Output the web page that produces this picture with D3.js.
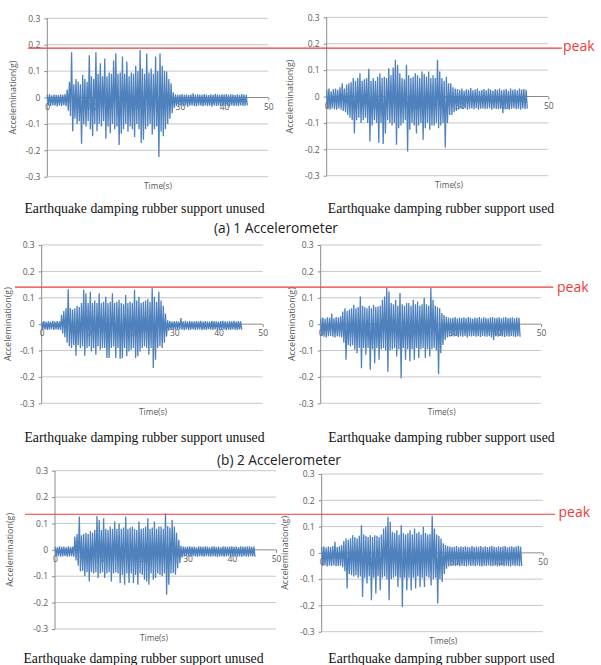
<!DOCTYPE html>
<html><head><meta charset="utf-8">
<script src="https://cdn.jsdelivr.net/npm/d3@7"></script>
<style>html,body{margin:0;padding:0;background:#fff;}svg{display:block;}</style>
</head><body>
<svg id="chart" width="601" height="665"></svg>
<script>
// ---------------- DATA ----------------
const timeStep = 0.5;               // seconds between envelope samples
const xTicks = [0, 10, 20, 30, 40, 50];
const yTicks = [0.3, 0.2, 0.1, 0, -0.1, -0.2, -0.3];
const yTickLabels = ["0.3", "0.2", "0.1", "0", "-0.1", "-0.2", "-0.3"];
const captions = ["Earthquake damping rubber support unused", "Earthquake damping rubber support used"];
const subtitles = ["(a) 1 Accelerometer", "(b) 2 Accelerometer"];
const peakLevels = [0.187, 0.140, 0.135];   // red "peak" line per row (g)
const yTitle = "Accelemination(g)";
const xTitle = "Time(s)";
const peakLabel = "peak";

// Accelerometer 1, rubber support unused: per-0.5 s upper / lower excursions (g)
const a1UnusedHi = [0.010,0.012,0.008,0.011,0.010,0.009,0.012,0.010,0.013,0.030,
  0.060,0.171,0.050,0.070,0.060,0.050,0.085,0.070,0.060,0.160,
  0.080,0.070,0.171,0.090,0.130,0.080,0.148,0.080,0.095,0.090,
  0.140,0.167,0.090,0.095,0.155,0.090,0.136,0.080,0.095,0.090,
  0.120,0.100,0.180,0.110,0.090,0.167,0.095,0.110,0.090,0.155,
  0.100,0.167,0.120,0.100,0.098,0.070,0.054,0.020,0.012,0.010,
  0.011,0.013,0.010,0.012,0.009,0.011,0.016,0.010,0.012,0.011,
  0.010,0.013,0.011,0.009,0.012,0.010,0.014,0.011,0.010,0.012,
  0.011,0.013,0.010,0.012,0.011,0.009,0.012,0.010,0.013,0.011,0.010];
const a1UnusedLo = [-0.030,-0.032,-0.030,-0.031,-0.034,-0.030,-0.032,-0.029,-0.033,-0.050,
  -0.070,-0.128,-0.080,-0.100,-0.090,-0.175,-0.100,-0.110,-0.090,-0.120,
  -0.147,-0.100,-0.128,-0.100,-0.110,-0.090,-0.156,-0.110,-0.135,-0.100,
  -0.120,-0.110,-0.180,-0.137,-0.120,-0.100,-0.130,-0.110,-0.120,-0.150,
  -0.100,-0.120,-0.172,-0.160,-0.120,-0.110,-0.100,-0.140,-0.120,-0.110,
  -0.225,-0.130,-0.147,-0.120,-0.100,-0.080,-0.060,-0.040,-0.032,-0.030,
  -0.031,-0.033,-0.030,-0.036,-0.031,-0.030,-0.032,-0.034,-0.030,-0.031,
  -0.033,-0.030,-0.032,-0.031,-0.035,-0.030,-0.032,-0.031,-0.033,-0.030,
  -0.032,-0.031,-0.034,-0.030,-0.032,-0.031,-0.033,-0.030,-0.032,-0.031,-0.030];

// Accelerometer 1, rubber support used
const a1UsedHi = [0.025,0.030,0.020,0.028,0.030,0.025,0.035,0.050,0.030,0.045,
  0.050,0.055,0.070,0.060,0.070,0.088,0.060,0.065,0.070,0.105,
  0.060,0.070,0.060,0.075,0.088,0.070,0.075,0.070,0.107,0.080,
  0.110,0.139,0.120,0.088,0.070,0.065,0.120,0.080,0.070,0.075,
  0.088,0.080,0.070,0.095,0.085,0.075,0.095,0.070,0.080,0.070,
  0.139,0.095,0.070,0.060,0.075,0.050,0.050,0.035,0.030,0.028,
  0.025,0.030,0.022,0.027,0.025,0.032,0.024,0.026,0.030,0.022,
  0.025,0.028,0.024,0.030,0.026,0.022,0.028,0.025,0.030,0.024,
  0.026,0.028,0.022,0.030,0.025,0.027,0.024,0.030,0.026,0.028,0.025];
const a1UsedLo = [-0.045,-0.050,-0.045,-0.048,-0.050,-0.045,-0.050,-0.055,-0.060,-0.070,
  -0.080,-0.090,-0.140,-0.090,-0.080,-0.100,-0.090,-0.080,-0.100,-0.170,
  -0.110,-0.090,-0.100,-0.175,-0.100,-0.180,-0.140,-0.090,-0.100,-0.110,
  -0.100,-0.183,-0.120,-0.110,-0.100,-0.090,-0.208,-0.126,-0.100,-0.110,
  -0.140,-0.110,-0.100,-0.164,-0.120,-0.100,-0.126,-0.110,-0.110,-0.100,
  -0.120,-0.110,-0.100,-0.193,-0.100,-0.070,-0.070,-0.060,-0.055,-0.050,
  -0.045,-0.048,-0.044,-0.050,-0.046,-0.045,-0.048,-0.044,-0.050,-0.046,
  -0.045,-0.048,-0.046,-0.044,-0.050,-0.045,-0.047,-0.048,-0.046,-0.063,
  -0.048,-0.045,-0.050,-0.046,-0.044,-0.048,-0.046,-0.050,-0.045,-0.047,-0.046];

// Accelerometer 2, rubber support unused
const a2UnusedHi = [0.010,0.012,0.009,0.011,0.010,0.013,0.010,0.012,0.011,0.035,
  0.050,0.060,0.132,0.060,0.055,0.060,0.070,0.065,0.080,0.130,
  0.117,0.080,0.123,0.080,0.090,0.080,0.117,0.080,0.085,0.104,
  0.080,0.085,0.117,0.080,0.085,0.092,0.080,0.075,0.110,0.080,
  0.085,0.080,0.130,0.090,0.104,0.080,0.085,0.090,0.095,0.085,
  0.136,0.104,0.085,0.123,0.090,0.070,0.040,0.015,0.012,0.010,
  0.011,0.012,0.010,0.023,0.011,0.013,0.010,0.012,0.011,0.010,
  0.012,0.011,0.013,0.010,0.012,0.011,0.010,0.013,0.012,0.011,
  0.010,0.012,0.013,0.011,0.010,0.012,0.011,0.013,0.010,0.012,0.011];
const a2UnusedLo = [-0.021,-0.020,-0.022,-0.021,-0.019,-0.022,-0.020,-0.021,-0.022,-0.035,
  -0.050,-0.070,-0.084,-0.090,-0.080,-0.120,-0.080,-0.090,-0.085,-0.120,
  -0.090,-0.085,-0.104,-0.090,-0.116,-0.085,-0.097,-0.090,-0.090,-0.128,
  -0.128,-0.090,-0.085,-0.128,-0.090,-0.132,-0.128,-0.090,-0.122,-0.104,
  -0.097,-0.090,-0.128,-0.122,-0.104,-0.090,-0.085,-0.090,-0.116,-0.090,
  -0.166,-0.135,-0.090,-0.084,-0.090,-0.070,-0.047,-0.025,-0.021,-0.020,
  -0.021,-0.022,-0.020,-0.021,-0.023,-0.020,-0.022,-0.021,-0.020,-0.022,
  -0.021,-0.020,-0.023,-0.021,-0.022,-0.020,-0.021,-0.022,-0.020,-0.021,
  -0.022,-0.021,-0.020,-0.023,-0.021,-0.022,-0.020,-0.021,-0.022,-0.020,-0.021];

// Accelerometer 2, rubber support used
const a2UsedHi = [0.022,0.025,0.020,0.026,0.024,0.040,0.022,0.027,0.025,0.030,
  0.048,0.060,0.050,0.055,0.060,0.073,0.060,0.065,0.105,0.070,
  0.065,0.060,0.070,0.060,0.073,0.065,0.067,0.070,0.092,0.105,
  0.137,0.124,0.080,0.075,0.092,0.070,0.118,0.075,0.070,0.080,
  0.080,0.070,0.092,0.075,0.086,0.070,0.075,0.100,0.075,0.070,
  0.137,0.092,0.070,0.065,0.060,0.042,0.035,0.028,0.025,0.022,
  0.024,0.027,0.021,0.025,0.023,0.026,0.022,0.027,0.024,0.021,
  0.025,0.023,0.027,0.022,0.026,0.024,0.021,0.025,0.027,0.023,
  0.024,0.026,0.022,0.025,0.027,0.023,0.024,0.026,0.022,0.025,0.024];
const a2UsedLo = [-0.045,-0.048,-0.050,-0.046,-0.045,-0.048,-0.050,-0.046,-0.048,-0.050,
  -0.070,-0.135,-0.080,-0.085,-0.080,-0.097,-0.110,-0.090,-0.167,-0.090,
  -0.116,-0.090,-0.173,-0.095,-0.148,-0.090,-0.135,-0.095,-0.090,-0.100,
  -0.180,-0.100,-0.095,-0.090,-0.123,-0.095,-0.205,-0.090,-0.135,-0.095,
  -0.141,-0.095,-0.135,-0.090,-0.128,-0.095,-0.090,-0.128,-0.095,-0.123,
  -0.095,-0.090,-0.100,-0.190,-0.110,-0.079,-0.060,-0.050,-0.048,-0.046,
  -0.047,-0.045,-0.049,-0.046,-0.048,-0.045,-0.050,-0.046,-0.047,-0.045,
  -0.048,-0.046,-0.049,-0.045,-0.047,-0.048,-0.046,-0.050,-0.060,-0.046,
  -0.048,-0.045,-0.047,-0.049,-0.046,-0.048,-0.045,-0.047,-0.049,-0.046,-0.048];

// Accelerometer 3, rubber support unused
const a3UnusedHi = [0.012,0.010,0.013,0.011,0.012,0.010,0.013,0.011,0.012,0.050,
  0.060,0.126,0.055,0.060,0.065,0.060,0.070,0.065,0.075,0.128,
  0.113,0.075,0.120,0.080,0.075,0.088,0.080,0.107,0.080,0.100,
  0.080,0.085,0.126,0.080,0.085,0.088,0.080,0.075,0.107,0.080,
  0.082,0.088,0.120,0.080,0.085,0.107,0.080,0.088,0.088,0.080,
  0.138,0.090,0.085,0.113,0.088,0.065,0.038,0.015,0.012,0.011,
  0.012,0.013,0.011,0.012,0.010,0.013,0.012,0.011,0.013,0.012,
  0.010,0.012,0.013,0.011,0.012,0.010,0.013,0.012,0.011,0.012,
  0.013,0.011,0.012,0.010,0.013,0.012,0.011,0.012,0.013,0.011,0.012];
const a3UnusedLo = [-0.025,-0.024,-0.026,-0.025,-0.023,-0.026,-0.025,-0.024,-0.026,-0.040,
  -0.060,-0.082,-0.080,-0.100,-0.085,-0.120,-0.085,-0.090,-0.085,-0.107,
  -0.090,-0.085,-0.107,-0.090,-0.085,-0.120,-0.090,-0.085,-0.090,-0.126,
  -0.095,-0.132,-0.090,-0.126,-0.090,-0.126,-0.095,-0.132,-0.090,-0.095,
  -0.113,-0.120,-0.132,-0.090,-0.113,-0.107,-0.090,-0.095,-0.100,-0.090,
  -0.170,-0.132,-0.090,-0.088,-0.094,-0.070,-0.050,-0.030,-0.025,-0.024,
  -0.025,-0.026,-0.024,-0.025,-0.027,-0.024,-0.025,-0.026,-0.024,-0.025,
  -0.026,-0.024,-0.025,-0.027,-0.025,-0.024,-0.026,-0.025,-0.024,-0.026,
  -0.025,-0.024,-0.026,-0.025,-0.027,-0.024,-0.025,-0.026,-0.024,-0.025,-0.026];

// Accelerometer 3, rubber support used
const a3UsedHi = [0.022,0.025,0.020,0.024,0.022,0.026,0.042,0.022,0.025,0.030,
  0.045,0.055,0.050,0.055,0.067,0.060,0.055,0.065,0.105,0.070,
  0.065,0.060,0.067,0.060,0.067,0.065,0.060,0.070,0.093,0.100,
  0.137,0.118,0.080,0.075,0.086,0.070,0.105,0.075,0.070,0.075,
  0.086,0.070,0.093,0.075,0.080,0.070,0.099,0.075,0.070,0.072,
  0.141,0.093,0.070,0.065,0.055,0.036,0.030,0.026,0.024,0.022,
  0.023,0.026,0.021,0.024,0.022,0.025,0.023,0.021,0.026,0.022,
  0.024,0.023,0.026,0.021,0.025,0.022,0.024,0.026,0.023,0.021,
  0.025,0.022,0.024,0.026,0.021,0.023,0.025,0.022,0.024,0.026,0.023];
const a3UsedLo = [-0.050,-0.048,-0.052,-0.049,-0.050,-0.048,-0.051,-0.050,-0.049,-0.055,
  -0.070,-0.136,-0.080,-0.085,-0.090,-0.085,-0.095,-0.090,-0.168,-0.095,
  -0.117,-0.090,-0.180,-0.095,-0.155,-0.090,-0.142,-0.095,-0.090,-0.100,
  -0.180,-0.100,-0.095,-0.090,-0.130,-0.095,-0.206,-0.095,-0.142,-0.095,
  -0.142,-0.095,-0.136,-0.090,-0.130,-0.095,-0.130,-0.090,-0.095,-0.124,
  -0.100,-0.095,-0.193,-0.100,-0.111,-0.080,-0.060,-0.052,-0.050,-0.049,
  -0.050,-0.048,-0.051,-0.049,-0.050,-0.052,-0.048,-0.050,-0.049,-0.051,
  -0.048,-0.050,-0.052,-0.049,-0.050,-0.048,-0.051,-0.050,-0.049,-0.052,
  -0.050,-0.048,-0.051,-0.049,-0.050,-0.052,-0.048,-0.050,-0.049,-0.051,-0.050];

// ---------------- LAYOUT ----------------
const panels = [
  {hi: a1UnusedHi, lo: a1UnusedLo, x0: 47.3, x1: 268.3, yT: 18.3, yB: 176.7, yTitleX: 13,  xTitleX: 158},
  {hi: a1UsedHi,   lo: a1UsedLo,   x0: 326.7, x1: 548.3, yT: 17.3, yB: 175.7, yTitleX: 290, xTitleX: 449},
  {hi: a2UnusedHi, lo: a2UnusedLo, x0: 41.7, x1: 262.7, yT: 245, yB: 403.3, yTitleX: 8,   xTitleX: 153},
  {hi: a2UsedHi,   lo: a2UsedLo,   x0: 320.7, x1: 541, yT: 245, yB: 403.3, yTitleX: 292, xTitleX: 441.7},
  {hi: a3UnusedHi, lo: a3UnusedLo, x0: 55, x1: 276, yT: 470.7, yB: 629, yTitleX: 10,  xTitleX: 154},
  {hi: a3UsedHi,   lo: a3UsedLo,   x0: 321.7, x1: 542.7, yT: 474, yB: 631.7, yTitleX: 285, xTitleX: 443.3}
];
const peakLines = [
  {x0: 28, x1: 561.7, labelX: 563, labelY: 51, ref: 0},
  {x0: 15, x1: 553.3, labelX: 557, labelY: 292, ref: 2},
  {x0: 25, x1: 555,   labelX: 558.5, labelY: 516.5, ref: 4}
];
const captionRows = [
  {y: 213, lx: 144.5, rx: 441},
  {y: 442, lx: 144.5, rx: 441.5},
  {y: 663, lx: 143.5, rx: 441.5}
];
const subtitleRows = [{y: 233, x: 276}, {y: 465, x: 279}];

const svg = d3.select("#chart");
const sans = "'Open Sans','Noto Sans',sans-serif";
const gridColor = "#c8c8c8", axisColor = "#8c8c8c", textColor = "#595959";
const waveColor = "#4f81bd";

function fitWidth(sel, target) {
  const n = sel.node();
  const fs = parseFloat(sel.attr("font-size"));
  const w = n.getComputedTextLength();
  sel.attr("font-size", (fs * target / w).toFixed(2));
}

panels.forEach(p => {
  const x = d3.scaleLinear().domain([0, 50]).range([p.x0, p.x1]);
  const y = d3.scaleLinear().domain([-0.3, 0.3]).range([p.yB, p.yT]);
  p.x = x; p.y = y;
  const g = svg.append("g");

  // horizontal gridlines (excluding zero which is the x axis)
  g.selectAll("line.grid").data(yTicks.filter(v => v !== 0)).join("line")
    .attr("x1", p.x0).attr("x2", p.x1)
    .attr("y1", d => y(d)).attr("y2", d => y(d))
    .attr("stroke", gridColor).attr("stroke-width", 1);

  // y axis
  const yAxis = d3.axisLeft(y).tickValues(yTicks).tickSize(3).tickPadding(4)
    .tickFormat((d, i) => yTickLabels[i]);
  const ya = g.append("g").attr("transform", `translate(${p.x0},0)`).call(yAxis);
  ya.select(".domain").attr("stroke", axisColor).attr("d", `M-0,${p.yT}V${p.yB}`);
  ya.selectAll(".tick line").attr("stroke", axisColor);
  ya.selectAll(".tick text").attr("fill", textColor).attr("font-size", 8.5).attr("font-family", sans);

  // x axis at zero
  const xAxis = d3.axisBottom(x).tickValues(xTicks).tickSize(3).tickPadding(3).tickFormat(d3.format("d"));
  const xa = g.append("g").attr("transform", `translate(0,${y(0)})`).call(xAxis);
  xa.select(".domain").attr("stroke", axisColor).attr("d", `M${p.x0},0H${p.x1}`);
  xa.selectAll(".tick line").attr("stroke", axisColor);
  xa.selectAll(".tick text").attr("fill", textColor).attr("font-size", 8.5).attr("font-family", sans);

  // waveform (zig-zag through upper/lower excursions)
  const pts = [];
  p.hi.forEach((h, i) => {
    pts.push([i * timeStep, h]);
    pts.push([i * timeStep + timeStep / 2, p.lo[i]]);
  });
  g.append("path").datum(pts)
    .attr("d", d3.line().x(d => x(d[0])).y(d => y(d[1])))
    .attr("fill", "none").attr("stroke", waveColor).attr("stroke-width", 1.3)
    .attr("stroke-linejoin", "miter").attr("stroke-miterlimit", 2);

  // axis titles
  const yt = g.append("text").text(yTitle)
    .attr("transform", `translate(${p.yTitleX},${(p.yT + p.yB) / 2}) rotate(-90)`)
    .attr("dy", "0.35em").attr("text-anchor", "middle")
    .attr("font-family", sans).attr("font-size", 10).attr("fill", textColor);
  fitWidth(yt, 74);
  const xt = g.append("text").text(xTitle)
    .attr("x", p.xTitleX).attr("y", p.yB + 9).attr("dy", "0.35em").attr("text-anchor", "middle")
    .attr("font-family", sans).attr("font-size", 10).attr("fill", textColor);
  fitWidth(xt, 28);
});

// red peak lines
peakLines.forEach((pl, r) => {
  const yy = panels[pl.ref].y(peakLevels[r]);
  svg.append("line").attr("x1", pl.x0).attr("x2", pl.x1).attr("y1", yy).attr("y2", yy)
    .attr("stroke", "#f03a3a").attr("stroke-width", 1.2);
  svg.append("text").text(peakLabel).attr("x", pl.labelX).attr("y", pl.labelY)
    .attr("font-family", sans).attr("font-size", 14).attr("fill", "#f03a3a");
});

// captions
let capSize = null;
captionRows.forEach(c => {
  const l = svg.append("text").text(captions[0]).attr("x", c.lx).attr("y", c.y)
    .attr("text-anchor", "middle").attr("font-family", "'Liberation Serif','Times New Roman',serif")
    .attr("font-size", 14).attr("fill", "#111");
  if (capSize === null) { fitWidth(l, 240); capSize = l.attr("font-size"); }
  l.attr("font-size", capSize);
  svg.append("text").text(captions[1]).attr("x", c.rx).attr("y", c.y)
    .attr("text-anchor", "middle").attr("font-family", "'Liberation Serif','Times New Roman',serif")
    .attr("font-size", capSize).attr("fill", "#111");
});
subtitleRows.forEach((s, i) => {
  const t = svg.append("text").text(subtitles[i]).attr("x", s.x).attr("y", s.y)
    .attr("text-anchor", "middle").attr("font-family", sans).attr("font-size", 14).attr("fill", "#222");
  fitWidth(t, 124);
});
</script>
</body></html>
